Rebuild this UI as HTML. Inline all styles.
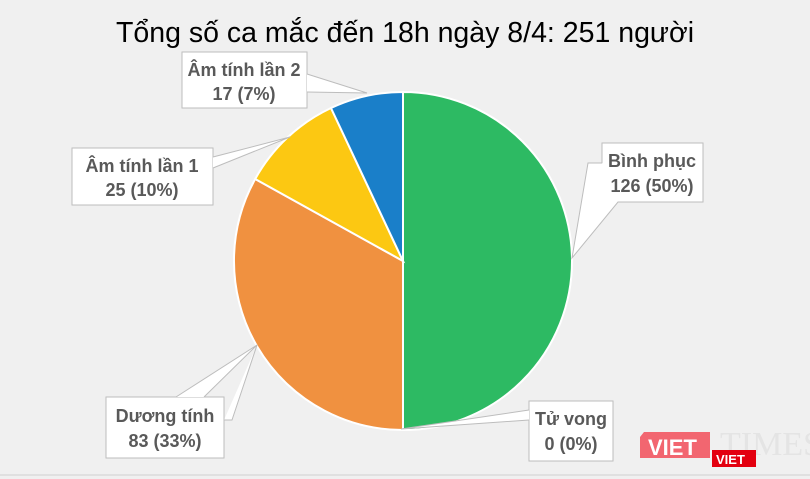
<!DOCTYPE html>
<html><head><meta charset="utf-8"><style>
html,body{margin:0;padding:0;background:#f0f0f0;}
svg{display:block}
</style></head><body>
<svg width="810" height="479" viewBox="0 0 810 479" xmlns="http://www.w3.org/2000/svg" font-family="'Liberation Sans', sans-serif">
<rect width="810" height="479" fill="#f0f0f0"/>
<line x1="0" y1="475" x2="810" y2="475" stroke="#d0d0d0" stroke-width="1"/>
<text x="405" y="42" text-anchor="middle" font-size="28.5" fill="#000">Tổng số ca mắc đến 18h ngày 8/4: 251 người</text>
<g stroke="#fff" stroke-width="2">
<path d="M403,261 L403,92 A169,169 0 0 1 403,430 Z" fill="#2dba63"/>
<path d="M403,261 L403,430 A169,169 0 0 1 255.2,179 Z" fill="#f09140"/>
<path d="M403,261 L255.2,179 A169,169 0 0 1 331,108 Z" fill="#fcc812"/>
<path d="M403,261 L331,108 A169,169 0 0 1 403,92 Z" fill="#1a7fc9"/>
</g>
<g fill="#fff" stroke="#bdbdbd" stroke-width="1">
<path d="M182,52 H307 V108 H182 Z"/>
<path d="M307,74 L367,93 L307,92"/>
<path d="M72,148 H213 V205 H72 Z"/>
<path d="M213,157 L290,137 L213,168"/>
<path d="M602,143 H703 V202 H602 Z"/>
<path d="M602,163 L588,163 L572,258 L618,202 L640,202"/>
<path d="M106,397 H224 V458 H106 Z"/>
<path d="M176,397 L257,345 L204,397 M224,420 L232,420 L257,345"/>
<path d="M529,401 H613 V461 H529 Z"/>
<path d="M529,410 L401,429 L529,420"/>
</g>
<g fill="#fff"><rect x="183" y="53" width="123" height="54"/><rect x="73" y="149" width="139" height="55"/><rect x="603" y="144" width="99" height="57"/><rect x="107" y="398" width="116" height="59"/><rect x="530" y="402" width="82" height="58"/></g>
<g font-size="18" font-weight="bold" fill="#595959" text-anchor="middle">
<text x="244" y="76">Âm tính lần 2</text><text x="244" y="100">17 (7%)</text>
<text x="142" y="172">Âm tính lần 1</text><text x="142" y="196">25 (10%)</text>
<text x="652" y="167">Bình phục</text><text x="652" y="192">126 (50%)</text>
<text x="165" y="422">Dương tính</text><text x="165" y="447">83 (33%)</text>
<text x="571" y="425">Tử vong</text><text x="571" y="450">0 (0%)</text>
</g>
<text x="720" y="455" font-size="34" fill="#e4e4e4" font-family="'Liberation Serif', serif">TIMES</text>
<path d="M644,432 L710,432 L710,458 L640,458 L640,437 Z" fill="#f26670"/>
<text x="648" y="455" font-size="22" font-weight="bold" fill="#fff">VIET</text>
<rect x="712" y="450" width="44" height="17" fill="#e3000f"/>
<text x="716" y="464" font-size="13" font-weight="bold" fill="#fff">VIET</text>
</svg>
</body></html>
